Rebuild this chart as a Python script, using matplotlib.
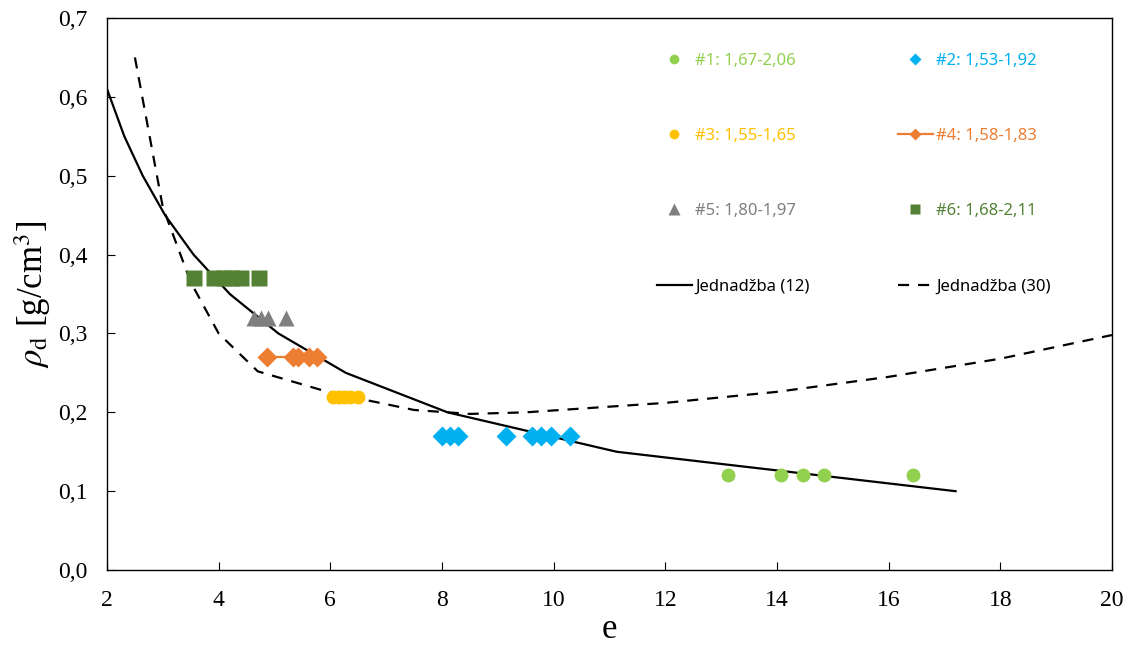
import matplotlib
matplotlib.use("Agg")
import matplotlib.pyplot as plt

plt.rcParams["font.family"] = ["Liberation Serif", "DejaVu Serif"]
plt.rcParams["mathtext.fontset"] = "stix"

# izmjereni uzorci (e, rho_d)
e1 = [13.12, 14.07, 14.47, 14.84, 16.44]
rho1 = [0.12, 0.12, 0.12, 0.12, 0.12]
e2 = [8.0, 8.14, 8.29, 9.15, 9.61, 9.77, 9.95, 10.29]
rho2 = [0.17, 0.17, 0.17, 0.17, 0.17, 0.17, 0.17, 0.17]
e3 = [6.05, 6.15, 6.25, 6.35, 6.5]
rho3 = [0.22, 0.22, 0.22, 0.22, 0.22]
e4 = [4.87, 5.33, 5.42, 5.62, 5.77]
rho4 = [0.27, 0.27, 0.27, 0.27, 0.27]
e5 = [4.63, 4.76, 4.88, 5.2]
rho5 = [0.32, 0.32, 0.32, 0.32]
e6 = [3.56, 3.92, 4.1, 4.24, 4.4, 4.73]
rho6 = [0.37, 0.37, 0.37, 0.37, 0.37, 0.37]

# Jednadzba (12)
e_j12 = [2.0, 2.31, 2.64, 3.04, 3.55, 4.2, 5.07, 6.28, 8.1, 11.13, 17.2]
rho_j12 = [0.61, 0.55, 0.50, 0.45, 0.40, 0.35, 0.30, 0.25, 0.20, 0.15, 0.10]

# Jednadzba (30)
e_j30 = [2.5, 3.0, 3.5, 4.0, 4.7, 6.0, 7.5, 8.5, 9.5, 12.0, 14.0, 16.0, 18.0, 20.0]
rho_j30 = [0.65, 0.46, 0.365, 0.30, 0.252, 0.225, 0.203, 0.198, 0.20, 0.212, 0.226, 0.245, 0.268, 0.298]

labels = ["#1: 1,67-2,06", "#2: 1,53-1,92", "#3: 1,55-1,65", "#4: 1,58-1,83",
          "#5: 1,80-1,97", "#6: 1,68-2,11", "Jednadžba (12)", "Jednadžba (30)"]
colors = ["#92D050", "#00B0F0", "#FFC000", "#ED7D31", "#7F7F7F", "#548235", "black", "black"]

xticks = [2, 4, 6, 8, 10, 12, 14, 16, 18, 20]
yticks = [0.0, 0.1, 0.2, 0.3, 0.4, 0.5, 0.6, 0.7]
ytick_labels = ["0,0", "0,1", "0,2", "0,3", "0,4", "0,5", "0,6", "0,7"]

fig = plt.figure(figsize=(11.3, 6.53), dpi=100)
ax = fig.add_axes([0.0947, 0.127, 0.8893, 0.8454])

h12, = ax.plot(e_j12, rho_j12, color="black", lw=1.6, label=labels[6])
h30, = ax.plot(e_j30, rho_j30, color="black", lw=1.6, ls=(0, (5, 4)), label=labels[7])

h1, = ax.plot(e1, rho1, "o", color=colors[0], ms=10, mec="none", label=labels[0])
h2, = ax.plot(e2, rho2, "D", color=colors[1], ms=10.5, mec="none", label=labels[1])
h3, = ax.plot(e3, rho3, "o", color=colors[2], ms=10, mec="none", label=labels[2])
h4, = ax.plot(e4, rho4, "-D", color=colors[3], ms=10, mec="none", lw=1.6, label=labels[3])
h5, = ax.plot(e5, rho5, "^", color=colors[4], ms=12, mec="none", label=labels[4])
h6, = ax.plot(e6, rho6, "s", color=colors[5], ms=11, mec="none", label=labels[5])

ax.set_xlim(2, 20)
ax.set_ylim(0, 0.7)
ax.set_xticks(xticks)
ax.set_yticks(yticks)
ax.set_yticklabels(ytick_labels)
ax.tick_params(direction="in", length=6, width=0.8, labelsize=17, pad=14)
for s in ax.spines.values():
    s.set_linewidth(1.0)

ax.set_xlabel("e", fontsize=25, labelpad=2)
ax.set_ylabel(r"$\rho_\mathrm{d}$ [g/cm$^3$]", fontsize=25, labelpad=4)

# legenda u dva stupca, redoslijed po stupcima
handles = [h1, h3, h5, h12, h2, h4, h6, h30]
leg = fig.legend(handles=handles, loc="upper left", bbox_to_anchor=(0.568, 0.942),
                 ncol=2, frameon=False, handlelength=2.1,
                 handletextpad=0.2, columnspacing=5.3, labelspacing=3.55,
                 prop={"family": "Noto Sans", "size": 12})
text_colors = [colors[0], colors[2], colors[4], "black",
               colors[1], colors[3], colors[5], "black"]
legend_ms = [7, 7, 8, 0, 6.5, 6.5, 7.5, 0]
for t, c in zip(leg.get_texts(), text_colors):
    t.set_color(c)
for lh, m in zip(leg.legend_handles, legend_ms):
    if m:
        lh.set_markersize(m)

fig.savefig("out.png", dpi=100)
